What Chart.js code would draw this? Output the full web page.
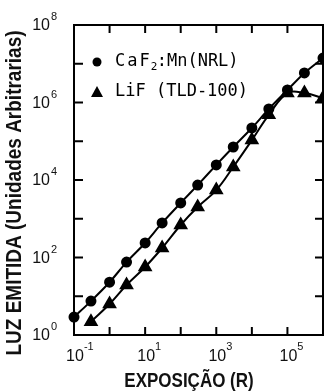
<!DOCTYPE html>
<html>
<head>
<meta charset="utf-8">
<script src="https://cdn.jsdelivr.net/npm/chart.js@4.4.1/dist/chart.umd.min.js"></script>
<style>
  html, body { margin: 0; padding: 0; background: #fff; }
  #wrap { width: 324px; height: 392px; }
</style>
</head>
<body>
<div id="wrap"><canvas id="lightChart" width="324" height="392"></canvas></div>
<script>
// Exposure (R) and emitted light (arbitrary units)
const exposureCaF = [0.1, 0.3, 1, 3, 10, 30, 100, 300, 1e3, 3e3, 1e4, 3e4, 1e5, 3e5, 1e6];
const lightCaF = [2.9, 7.5, 23, 76, 237, 780, 2560, 7400, 24500, 71000, 2.2e5, 6.8e5, 2.1e6, 5.8e6, 1.4e7];
const exposureLiF = [0.3, 1, 3, 10, 30, 100, 300, 1e3, 3e3, 1e4, 3e4, 1e5, 3e5, 1e6];
const lightLiF = [2.2, 6.3, 19.5, 57, 176, 690, 2000, 5500, 21700, 1.07e5, 4.8e5, 1.75e6, 1.75e6, 1.3e6];

const seriesLabels = ['CaF₂:Mn(NRL)', 'LiF (TLD-100)'];
const xTickPowers = [0, 1, 2, 3, 4, 5];
const xLabelPowers = [-1, 1, 3, 5];
const yTickPowers = [1, 2, 3, 4, 5, 6, 7];
const yLabelPowers = [0, 2, 4, 6, 8];
const xTitle = 'EXPOSIÇÃO (R)';
const yTitle = 'LUZ EMITIDA (Unidades Arbitrarias)';

function pairs(xs, ys) {
    return xs.map((v, i) => ({ x: v, y: ys[i] }));
}

// Frame, inward ticks, power-of-ten labels, titles and legend
const framePlugin = {
    id: 'frame',
    afterDatasetsDraw(chart) {
        const { ctx, chartArea: a, scales: { x, y } } = chart;
        ctx.save();
        ctx.strokeStyle = '#000';
        ctx.fillStyle = '#111';
        ctx.lineWidth = 2;
        ctx.strokeRect(a.left, a.top, a.right - a.left, a.bottom - a.top);

        ctx.beginPath();
        xTickPowers.forEach(p => {
            const px = x.getPixelForValue(Math.pow(10, p));
            ctx.moveTo(px, a.bottom); ctx.lineTo(px, a.bottom - 8);
            ctx.moveTo(px, a.top); ctx.lineTo(px, a.top + 8);
        });
        yTickPowers.forEach(p => {
            const py = y.getPixelForValue(Math.pow(10, p));
            ctx.moveTo(a.left, py); ctx.lineTo(a.left + 9, py);
            ctx.moveTo(a.right, py); ctx.lineTo(a.right - 8, py);
        });
        ctx.stroke();

        // y labels
        yLabelPowers.forEach(p => {
            const py = y.getPixelForValue(Math.pow(10, p));
            ctx.font = '16px "Liberation Sans"';
            ctx.textAlign = 'right';
            ctx.textBaseline = 'middle';
            ctx.fillText('10', 50, py + 1);
            ctx.font = '11px "Liberation Sans"';
            ctx.textAlign = 'left';
            ctx.fillText(String(p), 51, py - 8);
        });

        // x labels
        xLabelPowers.forEach(p => {
            const px = x.getPixelForValue(Math.pow(10, p));
            ctx.font = '16px "Liberation Sans"';
            ctx.textAlign = 'center';
            ctx.textBaseline = 'middle';
            ctx.fillText('10', px + 1, 357);
            const w = ctx.measureText('10').width;
            ctx.font = '11px "Liberation Sans"';
            ctx.textAlign = 'left';
            ctx.fillText(String(p), px + 1 + w / 2, 347);
        });

        // axis titles
        ctx.font = 'bold 17px "Liberation Sans"';
        ctx.textAlign = 'center';
        ctx.textBaseline = 'middle';
        ctx.save();
        ctx.translate(189, 382);
        ctx.scale(1, 1.15);
        ctx.fillText(xTitle, 0, 0);
        ctx.restore();

        ctx.save();
        ctx.translate(15, 193);
        ctx.rotate(-Math.PI / 2);
        ctx.scale(1, 1.15);
        ctx.font = 'bold 19px "Liberation Sans"';
        ctx.fillText(yTitle, 0, 0);
        ctx.restore();

        // legend
        ctx.fillStyle = '#000';
        ctx.beginPath();
        ctx.arc(97, 62, 4.5, 0, Math.PI * 2);
        ctx.fill();
        ctx.beginPath();
        ctx.moveTo(97, 86); ctx.lineTo(103, 97); ctx.lineTo(91, 97);
        ctx.closePath();
        ctx.fill();

        ctx.font = '17px "DejaVu Sans Mono"';
        ctx.textAlign = 'left';
        ctx.textBaseline = 'middle';
        const [head, tail] = seriesLabels[0].split('₂');
        ctx.letterSpacing = '2px';
        ctx.fillText(head, 115, 62);
        const hw = ctx.measureText(head).width;
        ctx.letterSpacing = '0px';
        ctx.font = '11px "DejaVu Sans Mono"';
        ctx.fillText('2', 115 + hw - 1, 67);
        ctx.font = '17px "DejaVu Sans Mono"';
        ctx.fillText(tail, 115 + hw + 5, 62);
        ctx.fillText(seriesLabels[1], 115, 92);
        ctx.restore();
    }
};

const ctx = document.getElementById('lightChart').getContext('2d');
const lightChart = new Chart(ctx, {
    type: 'line',
    data: {
        datasets: [{
            label: seriesLabels[0],
            data: pairs(exposureCaF, lightCaF),
            borderColor: '#000',
            backgroundColor: '#000',
            borderWidth: 2,
            pointStyle: 'circle',
            pointRadius: 4.5,
            tension: 0.3,
            clip: false
        }, {
            label: seriesLabels[1],
            data: pairs(exposureLiF, lightLiF),
            borderColor: '#000',
            backgroundColor: '#000',
            borderWidth: 2,
            pointStyle: 'triangle',
            pointRadius: 6.5,
            tension: 0.4,
            clip: false
        }]
    },
    options: {
        responsive: false,
        animation: false,
        events: [],
        layout: { padding: { top: 25, right: 1, left: 0, bottom: 0 }, autoPadding: false },
        plugins: { legend: { display: false }, tooltip: { enabled: false } },
        scales: {
            x: {
                type: 'logarithmic',
                min: 0.1,
                max: 1e6,
                grid: { display: false },
                border: { display: false },
                ticks: { display: false },
                afterFit(scale) { scale.height = 57; }
            },
            y: {
                type: 'logarithmic',
                min: 1,
                max: 1e8,
                grid: { display: false },
                border: { display: false },
                ticks: { display: false },
                afterFit(scale) { scale.width = 74; }
            }
        }
    },
    plugins: [framePlugin]
});
</script>
</body>
</html>
